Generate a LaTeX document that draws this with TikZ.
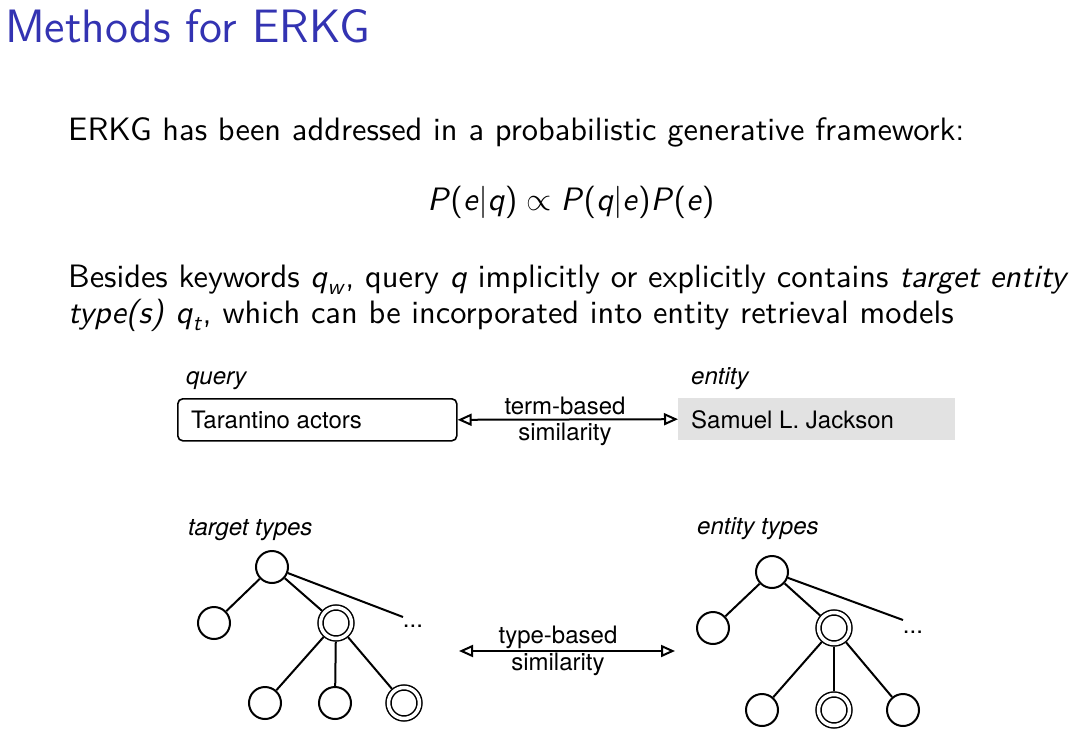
\RequirePackage{fix-cm}
\documentclass[tikz,border=0pt]{standalone}
\usepackage{amsmath}
\usepackage{fontspec}
\setsansfont{lmsans10-regular.otf}[ItalicFont=lmsans10-oblique.otf, BoldFont=lmsans10-bold.otf]
\newfontfamily\titlefont{lmsans12-regular.otf}
\newfontfamily\helv{TeX Gyre Heros}
\usetikzlibrary{arrows.meta}
\definecolor{beamerblue}{RGB}{51,51,178}
\definecolor{entgray}{RGB}{226,226,226}
\newcommand\mi[1]{\textsf{\textit{#1}}}
\tikzset{
  slidetext/.style={anchor=base west, inner sep=0pt, font=\fontsize{32.4}{38}\selectfont\sffamily},
  diag/.style={inner sep=0pt, font=\fontsize{24}{28}\selectfont\helv},
  diagit/.style={diag, anchor=base west, font=\fontsize{24}{28}\selectfont\helv\itshape},
  tnode/.style={circle, draw, line width=2pt, minimum size=32pt, inner sep=0pt, outer sep=1pt},
  dnode/.style={circle, draw, line width=1.5pt, double, double distance=3.5pt, minimum size=31pt, inner sep=0pt, outer sep=3.25pt},
  edge/.style={line width=2pt},
  simarrow/.style={line width=2pt, {Triangle[open,length=14pt,width=12pt]}-{Triangle[open,length=14pt,width=12pt]}},
}
\begin{document}
\begin{tikzpicture}[x=1pt,y=-1pt]
\useasboundingbox[fill=white] (0,0) rectangle (1080,731);
% title
\node[anchor=base west, inner sep=0pt, text=beamerblue, font=\fontsize{46.8}{52}\selectfont\titlefont] (title) at (5,42) {Methods for ERKG};
% body
\node[slidetext] (l1) at (68,140) {ERKG has been addressed in a probabilistic generative framework:};
\node[anchor=base, inner sep=0pt, font=\fontsize{32.4}{38}\selectfont\sffamily] (formula) at (571,210)
  {\mi{P}(\mi{e}|\mi{q})$\;\propto\;$\mi{P}(\mi{q}|\mi{e})\mi{P}(\mi{e})};
\node[slidetext] (l3) at (68,287) {Besides keywords $\mi{q}_{\mi{w}}$, query \mi{q} implicitly or explicitly contains \textit{target entity}};
\node[slidetext] (l4) at (68,323) {\textit{type(s)} $\mi{q}_{\mi{t}}$, which can be incorporated into entity retrieval models};
% term-based part
\node[diagit] (qlab) at (186,384) {query};
\node[diagit] (elab) at (691,384) {entity};
\node[draw, rounded corners=5pt, line width=1.6pt, minimum width=279pt, minimum height=42pt, anchor=north west] (qbox) at (177,398) {};
\node[diag, anchor=west] (qtext) at (191,420) {Tarantino actors};
\node[fill=entgray, minimum width=277pt, minimum height=42pt, anchor=north west] (ebox) at (678,398) {};
\node[diag, anchor=west] (etext) at (691,420) {Samuel L. Jackson};
\draw[simarrow] (qbox.east) -- (ebox.west);
\node[diag] (tb1) at (565,406) {term-based};
\node[diag] (tb2) at (565,434) {similarity};
% target types tree
\node[diagit] (ttlab) at (188,535) {target types};
\node[tnode] (r1) at (272,567) {};
\node[tnode] (a1) at (214,623) {};
\node[dnode] (b1) at (336,623) {};
\node[diag] (dots1) at (413,626) {...};
\coordinate (d1) at (403,617);
\node[tnode] (c1) at (265,703) {};
\node[tnode] (e1) at (335,703) {};
\node[dnode] (f1) at (404,703) {};
\draw[edge] (r1) -- (a1);
\draw[edge] (r1) -- (b1);
\draw[edge] (r1) -- (d1);
\draw[edge] (b1) -- (c1);
\draw[edge] (b1) -- (e1);
\draw[edge] (b1) -- (f1);
% entity types tree
\node[diagit] (etlab) at (697,534) {entity types};
\node[tnode] (r2) at (772,572) {};
\node[tnode] (a2) at (713,628) {};
\node[dnode] (b2) at (834,628) {};
\node[diag] (dots2) at (913,632) {...};
\coordinate (d2) at (903,620);
\node[tnode] (c2) at (762,710) {};
\node[dnode] (e2) at (834,710) {};
\node[tnode] (f2) at (903,710) {};
\draw[edge] (r2) -- (a2);
\draw[edge] (r2) -- (b2);
\draw[edge] (r2) -- (d2);
\draw[edge] (b2) -- (c2);
\draw[edge] (b2) -- (e2);
\draw[edge] (b2) -- (f2);
% type-based similarity
\coordinate (s1) at (459,651);
\coordinate (s2) at (675,651);
\draw[simarrow] (s1) -- (s2);
\node[diag] (ty1) at (558,637) {type-based};
\node[diag] (ty2) at (558,664) {similarity};
\end{tikzpicture}
\end{document}
